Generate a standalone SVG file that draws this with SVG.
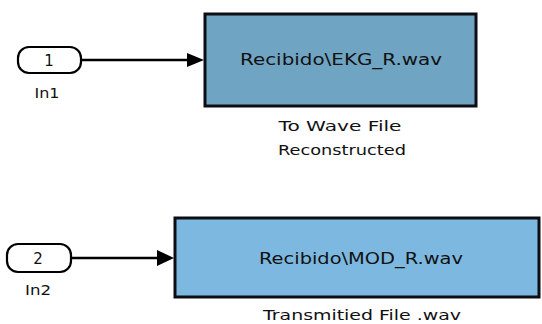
<svg xmlns="http://www.w3.org/2000/svg" width="542" height="324" viewBox="0 0 542 324">
<style>
.port{fill:#ffffff;stroke:#000;stroke-width:2.2}
.blk{stroke:#0d0d14;stroke-width:3}
.wire{stroke:#000;stroke-width:2.5;fill:none}
.head{fill:#000}
text{font-family:"DejaVu Sans","Liberation Sans",sans-serif;fill:#111;text-anchor:middle}
.in{font-size:15px}
.lbl{font-size:14.5px}
.bt{font-size:16.5px;text-anchor:start}
</style>
<rect width="542" height="324" fill="#ffffff"/>
<g id="connectors">
<line class="wire" x1="81" y1="60" x2="189" y2="60"/>
<polygon class="head" points="187,53 204,60 187,67"/>
<line class="wire" x1="71" y1="258" x2="159" y2="258"/>
<polygon class="head" points="157,250 174,258 157,266"/>
</g>
<g id="in1">
<rect class="port" x="18" y="47" width="63" height="26" rx="11"/>
<text class="in" x="49" y="66">1</text>
<text class="lbl" x="47" y="98" textLength="25" lengthAdjust="spacingAndGlyphs">In1</text>
</g>
<g id="in2">
<rect class="port" x="7" y="244" width="64" height="28" rx="11"/>
<text class="in" x="38" y="264">2</text>
<text class="lbl" x="38" y="295" textLength="26" lengthAdjust="spacingAndGlyphs">In2</text>
</g>
<g id="wave1">
<rect class="blk" x="205" y="14" width="271" height="92" fill="#6fa5c3"/>
<text class="bt" x="240" y="65" textLength="202" lengthAdjust="spacingAndGlyphs">Recibido\EKG_R.wav</text>
<text class="lbl" x="340" y="131" textLength="123" lengthAdjust="spacingAndGlyphs">To Wave File</text>
<text class="lbl" x="342" y="155" textLength="128" lengthAdjust="spacingAndGlyphs">Reconstructed</text>
</g>
<g id="wave2">
<rect class="blk" x="175" y="218" width="364" height="79" fill="#7db8e0"/>
<text class="bt" x="259" y="264" textLength="204" lengthAdjust="spacingAndGlyphs">Recibido\MOD_R.wav</text>
<text class="lbl" x="362" y="320" textLength="198" lengthAdjust="spacingAndGlyphs">Transmitied File .wav</text>
</g>
</svg>
